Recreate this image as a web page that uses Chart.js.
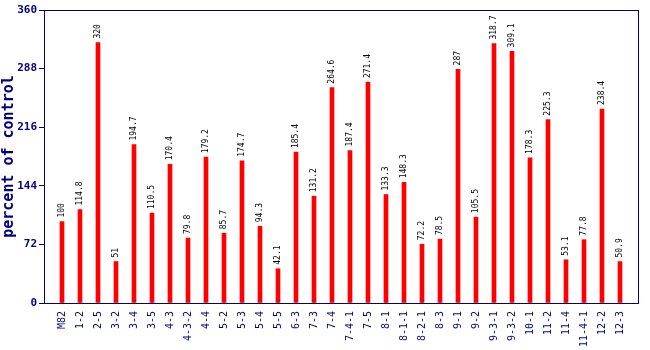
<!DOCTYPE html>
<html>
<head>
<meta charset="utf-8">
<script src="https://cdn.jsdelivr.net/npm/chart.js@4"></script>
<style>
body{margin:0;background:#fff}
#wrap{width:650px;height:350px}
</style>
</head>
<body>
<div id="wrap"><canvas id="chart" width="650" height="350"></canvas></div>
<script>
const categories = ["M82","1-2","2-5","3-2","3-4","3-5","4-3","4-3-2","4-4","5-2","5-3","5-4","5-5","6-3","7-3","7-4","7-4-1","7-5","8-1","8-1-1","8-2-1","8-3","9-1","9-2","9-3-1","9-3-2","10-1","11-2","11-4","11-4-1","12-2","12-3"]
const values = [100,114.8,320,51,194.7,110.5,170.4,79.8,179.2,85.7,174.7,94.3,42.1,185.4,131.2,264.6,187.4,271.4,133.3,148.3,72.2,78.5,287,105.5,318.7,309.1,178.3,225.3,53.1,77.8,238.4,50.9]
const valueLabels = ["100","114.8","320","51","194.7","110.5","170.4","79.8","179.2","85.7","174.7","94.3","42.1","185.4","131.2","264.6","187.4","271.4","133.3","148.3","72.2","78.5","287","105.5","318.7","309.1","178.3","225.3","53.1","77.8","238.4","50.9"]
const yTicks = [0,72,144,216,288,360]

const navy = "#000080"

// blank slot at each end so the bars sit one step in from the frame
const labels = [""].concat(categories, [""])
const data = [null].concat(values, [null])

const frame = {
  id:"frame",
  afterDraw(chart){
    const a = chart.chartArea, ctx = chart.ctx
    ctx.save()
    ctx.strokeStyle = navy
    ctx.lineWidth = 1
    ctx.strokeRect(a.left+0.5, a.top+0.5, a.right-a.left, a.bottom-a.top)
    // value labels
    const meta = chart.getDatasetMeta(0)
    ctx.fillStyle = "#000"
    ctx.font = "8px 'DejaVu Sans Mono'"
    ctx.textAlign = "left"
    ctx.textBaseline = "middle"
    meta.data.forEach((bar,i)=>{
      if(data[i]==null) return
      ctx.save()
      ctx.translate(bar.x, bar.y-4)
      ctx.rotate(-Math.PI/2)
      ctx.fillText(valueLabels[i-1],0,0)
      ctx.restore()
    })
    ctx.restore()
  }
}

new Chart(document.getElementById("chart"),{
  type:"bar",
  data:{
    labels:labels,
    datasets:[{
      data:data,
      backgroundColor:"#ff0000",
      barThickness:4
    }]
  },
  options:{
    responsive:false,
    animation:false,
    layout:{padding:{top:10,right:11,left:0,bottom:0}},
    plugins:{legend:{display:false},tooltip:{enabled:false}},
    scales:{
      x:{
        offset:false,
        grid:{display:false},
        border:{display:false},
        ticks:{
          color:navy,
          font:{family:"'DejaVu Sans Mono'",size:10},
          minRotation:90,maxRotation:90,
          autoSkip:false,
          padding:0
        },
        afterFit(s){ s.height = 47 }
      },
      y:{
        min:0,max:360,
        afterBuildTicks(s){ s.ticks = yTicks.map(v=>({value:v})) },
        grid:{drawOnChartArea:false,tickLength:5,color:navy},
        border:{display:false},
        ticks:{
          color:navy,
          font:{family:"'DejaVu Sans Mono'",size:11,weight:"bold"},
          padding:2
        },
        title:{
          display:true,
          text:"percent of control",
          color:navy,
          font:{family:"'DejaVu Sans Mono'",size:15,weight:"bold"},
          padding:0
        },
        afterFit(s){ s.width = 44 }
      }
    }
  },
  plugins:[frame]
})
</script>
</body>
</html>
